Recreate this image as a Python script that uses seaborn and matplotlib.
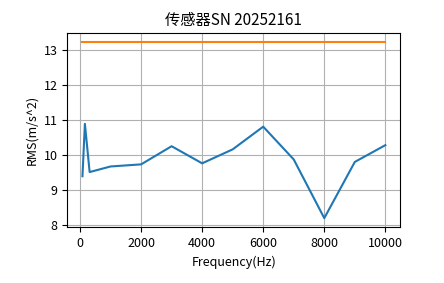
import matplotlib
matplotlib.use("Agg")
import matplotlib.pyplot as plt
import seaborn as sns
import pandas as pd

freqs = [80, 160, 315, 1000, 2000, 3000, 4000, 5000, 6000, 7000, 8000, 9000, 10000]
rms = [9.39, 10.89, 9.51, 9.67, 9.73, 10.25, 9.76, 10.16, 10.81, 9.87, 8.19, 9.80, 10.28]
limit_freqs = [80, 10000]
limit_vals = [13.24, 13.24]

title = "传感器SN 20252161"
xlabel = "Frequency(Hz)"
ylabel = "RMS(m/s^2)"

plt.rcParams['font.family'] = ['Noto Sans CJK SC', 'DejaVu Sans']
plt.rcParams['axes.unicode_minus'] = False

fig = plt.figure(figsize=(4.44, 2.83), dpi=100)
ax = fig.add_axes([0.1516, 0.198, 0.7504, 0.6854])

df = pd.DataFrame({"f": freqs, "v": rms})
df2 = pd.DataFrame({"f": limit_freqs, "v": limit_vals})
sns.lineplot(data=df, x="f", y="v", ax=ax, color="C0", sort=False)
sns.lineplot(data=df2, x="f", y="v", ax=ax, color="C1", sort=False)

ax.grid(True)
ax.set_title(title, fontsize=11)
ax.set_xlabel(xlabel, fontsize=9)
ax.set_ylabel(ylabel, fontsize=9)
ax.tick_params(labelsize=9)
ax.set_xticks([0, 2000, 4000, 6000, 8000, 10000])
ax.set_yticks([8, 9, 10, 11, 12, 13])

fig.savefig("out.png", dpi=100)
